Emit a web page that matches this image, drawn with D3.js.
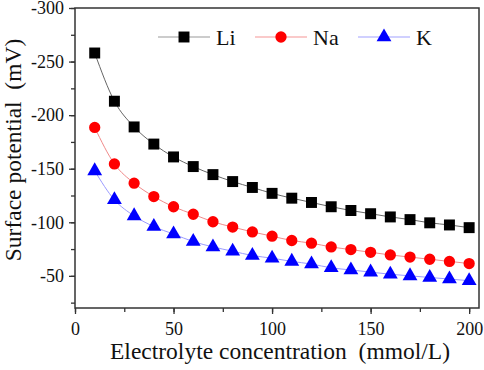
<!DOCTYPE html>
<html>
<head>
<meta charset="utf-8">
<script src="https://cdn.jsdelivr.net/npm/d3@7"></script>
<style>
  body { margin: 0; background: #fff; }
</style>
</head>
<body>
<div id="chart"></div>
<script>
// concentration (mmol/L)
var conc = [10, 20, 30, 40, 50, 60, 70, 80, 90, 100, 110, 120, 130, 140, 150, 160, 170, 180, 190, 200];
// surface potential (mV)
var li = [-258, -213, -189, -173, -161, -152, -144.5, -138, -132.5, -127, -122.5, -118.5, -114.5, -111, -108, -105, -102.5, -99.5, -97.5, -95];
var na = [-188.5, -154.5, -136.5, -124, -114.5, -107.5, -100.5, -95.5, -91, -87, -83, -80.5, -77, -74.5, -72, -69.5, -67.5, -65.5, -63.5, -61.5];
var k = [-148, -121, -106, -96, -89, -82, -77, -73, -69, -66.5, -63.5, -61, -57.5, -55.5, -53.5, -51.5, -50, -48.5, -47, -45.5];
var xTicks = [0, 50, 100, 150, 200];
var yTicks = [-300, -250, -200, -150, -100, -50];

var serif = "Liberation Serif";

var margin = {top: 8, right: 5, bottom: 62, left: 75}
var width = 484 - margin.left - margin.right;
var height = 370 - margin.top - margin.bottom;

var svg = d3.select("#chart")
  .append("svg")
    .attr("width", 484)
    .attr("height", 370)
    .attr("font-family", serif)

var g = svg.append("g").attr("transform", "translate(" + margin.left + "," + margin.top + ")");

var x = d3.scaleLinear().domain([0, 205]).range([0, width]);
var y = d3.scaleLinear().domain([-300, -20]).range([0, height]);

// minor ticks first, then major ones on top
g.append("g")
  .attr("transform", "translate(0," + height + ")")
  .call(d3.axisBottom(x).tickValues(d3.range(0, 205, 25)).tickSize(4).tickFormat(""));
g.append("g")
  .call(d3.axisLeft(y).tickValues(d3.range(-300, -20, 25)).tickSize(4).tickFormat(""));

g.append("g")
  .attr("transform", "translate(0," + height + ")")
  .call(d3.axisBottom(x).tickValues(xTicks).tickSize(6).tickPadding(8)
    .tickFormat(function(d) { return String(d); }));
g.append("g")
  .call(d3.axisLeft(y).tickValues(yTicks).tickSize(6).tickPadding(5)
    .tickFormat(function(d) { return String(d); }));

g.selectAll(".domain").remove();
g.selectAll(".tick line").attr("stroke", "#333").attr("stroke-width", 1.3);
g.selectAll(".tick text")
  .attr("font-size", 18)
  .attr("font-family", serif)
  .style("font-family", serif)
  .attr("fill", "#111");
g.selectAll("g").attr("font-family", serif);

// frame
g.append("rect")
  .attr("width", width)
  .attr("height", height)
  .attr("fill", "none")
  .attr("stroke", "#333")
  .attr("stroke-width", 1.5);

var series = [
  {name: "Li", values: li, line: "#666", legendLine: "#bbb", fill: "#000", shape: d3.symbolSquare, size: 120},
  {name: "Na", values: na, line: "#f08a8a", legendLine: "#f8b8b8", fill: "#ff0000", shape: d3.symbolCircle, size: 100},
  {name: "K", values: k, line: "#9a9aff", legendLine: "#c0c0ff", fill: "#0000ff", shape: d3.symbolTriangle, size: 95}
];

var line = d3.line()
  .curve(d3.curveMonotoneX)
  .x(function(d, i) { return x(conc[i]); })
  .y(function(d) { return y(d); });

series.forEach(function(s) {
  g.append("path")
    .datum(s.values)
    .attr("fill", "none")
    .attr("stroke", s.line)
    .attr("stroke-width", 1)
    .attr("d", line);

  g.selectAll(".pt-" + s.name)
    .data(s.values)
    .enter()
    .append("path")
      .attr("class", "pt-" + s.name)
      .attr("transform", function(d, i) { return "translate(" + x(conc[i]) + "," + y(d) + ")"; })
      .attr("d", d3.symbol().type(s.shape).size(s.size))
      .attr("fill", s.fill);
});

// legend
var legendX = [158, 255, 358];
var legend = svg.append("g")
  .selectAll("g")
  .data(series)
  .enter()
  .append("g")
  .attr("transform", function(d, i) { return "translate(" + legendX[i] + ",37)"; });

legend.append("line")
  .attr("x1", 0)
  .attr("x2", 52)
  .attr("stroke", function(d) { return d.legendLine; })
  .attr("stroke-width", 1.3);

legend.append("path")
  .attr("transform", "translate(26,0)")
  .attr("d", function(d) { return d3.symbol().type(d.shape).size(d.size)(); })
  .attr("fill", function(d) { return d.fill; });

legend.append("text")
  .attr("x", 58)
  .attr("dy", "0.35em")
  .attr("font-size", 22)
  .attr("fill", "#111")
  .text(function(d) { return d.name; });

// axis titles
svg.append("text")
  .attr("x", 280)
  .attr("y", 359)
  .attr("text-anchor", "middle")
  .attr("font-size", 23.5)
  .attr("fill", "#111")
  .style("white-space", "pre")
  .text("Electrolyte concentration  (mmol/L)");

svg.append("text")
  .attr("transform", "translate(21,150)rotate(-90)")
  .attr("text-anchor", "middle")
  .attr("font-size", 23.5)
  .attr("fill", "#111")
  .style("white-space", "pre")
  .text("Surface potential  (mV)");
</script>
</body>
</html>
